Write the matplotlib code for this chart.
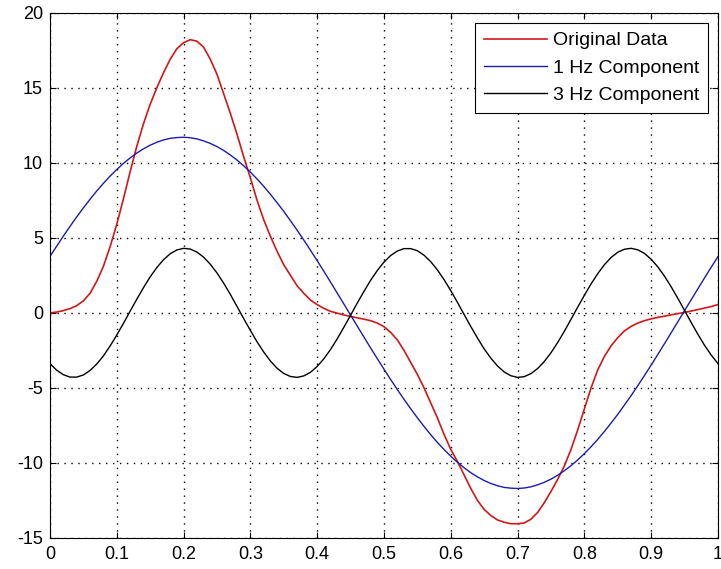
# Original signal with its 1 Hz and 3 Hz components
import numpy as np
import matplotlib.pyplot as plt

plt.rcParams['font.family'] = ['Liberation Sans', 'DejaVu Sans']
plt.rcParams['axes.unicode_minus'] = False  # plain hyphen like the reference

# sample times (s), one every 0.01 s
t = np.linspace(0, 1, 101)

# values
original = [0.0, 0.05, 0.15, 0.28, 0.48, 0.8, 1.3, 2.1, 3.1, 4.4,
            5.9, 7.6, 9.4, 11.1, 12.6, 13.9, 15.0, 16.0, 16.9, 17.6,
            18.0, 18.2, 18.1, 17.7, 16.9, 15.9, 14.6, 13.3, 11.9, 10.4,
            9.0, 7.5, 6.2, 5.1, 4.1, 3.2, 2.5, 1.8, 1.3, 0.85,
            0.55, 0.3, 0.1, -0.02, -0.14, -0.24, -0.33, -0.42, -0.52, -0.68,
            -0.92, -1.3, -1.8, -2.5, -3.3, -4.1, -5.0, -6.0, -7.0, -8.1,
            -9.1, -9.9, -10.8, -11.7, -12.5, -13.1, -13.5, -13.8, -13.95, -14.05,
            -14.05, -14.0, -13.75, -13.3, -12.65, -11.9, -11.1, -10.2, -9.1, -7.8,
            -6.4, -5.0, -3.8, -2.9, -2.2, -1.65, -1.2, -0.9, -0.68, -0.52,
            -0.4, -0.3, -0.22, -0.13, -0.05, 0.03, 0.12, 0.22, 0.32, 0.42,
            0.55]
comp_1hz = [3.76, 4.44, 5.11, 5.76, 6.39, 6.99, 7.57, 8.12, 8.63, 9.11,
            9.55, 9.96, 10.32, 10.65, 10.93, 11.17, 11.37, 11.52, 11.63, 11.68,
            11.70, 11.67, 11.59, 11.46, 11.29, 11.08, 10.82, 10.52, 10.18, 9.80,
            9.38, 8.92, 8.43, 7.90, 7.34, 6.76, 6.14, 5.51, 4.85, 4.17,
            3.48, 2.77, 2.05, 1.32, 0.59, -0.15, -0.88, -1.61, -2.34, -3.05,
            -3.75, -4.44, -5.11, -5.76, -6.39, -6.99, -7.57, -8.12, -8.63, -9.11,
            -9.55, -9.96, -10.32, -10.65, -10.93, -11.17, -11.37, -11.52, -11.63, -11.68,
            -11.70, -11.67, -11.59, -11.46, -11.29, -11.08, -10.82, -10.52, -10.18, -9.80,
            -9.38, -8.92, -8.43, -7.90, -7.34, -6.76, -6.14, -5.51, -4.85, -4.17,
            -3.48, -2.77, -2.05, -1.32, -0.59, 0.15, 0.88, 1.61, 2.34, 3.05,
            3.75]
comp_3hz = [-3.38, -3.82, -4.12, -4.28, -4.28, -4.14, -3.84, -3.41, -2.87, -2.21,
            -1.48, -0.70, 0.11, 0.91, 1.68, 2.40, 3.02, 3.54, 3.94, 4.19,
            4.30, 4.25, 4.05, 3.71, 3.24, 2.66, 1.98, 1.23, 0.43, -0.38,
            -1.17, -1.93, -2.61, -3.21, -3.69, -4.04, -4.24, -4.30, -4.20, -3.96,
            -3.57, -3.06, -2.44, -1.73, -0.96, -0.16, 0.65, 1.43, 2.17, 2.82,
            3.38, 3.82, 4.12, 4.28, 4.28, 4.14, 3.84, 3.41, 2.86, 2.21,
            1.48, 0.70, -0.11, -0.91, -1.68, -2.40, -3.02, -3.54, -3.94, -4.19,
            -4.30, -4.25, -4.05, -3.71, -3.24, -2.66, -1.98, -1.23, -0.43, 0.38,
            1.17, 1.93, 2.61, 3.21, 3.69, 4.04, 4.24, 4.30, 4.20, 3.96,
            3.57, 3.06, 2.44, 1.73, 0.96, 0.16, -0.65, -1.43, -2.17, -2.82,
            -3.38]

xticks = [0, 0.1, 0.2, 0.3, 0.4, 0.5, 0.6, 0.7, 0.8, 0.9, 1]
xlabels = ['0', '0.1', '0.2', '0.3', '0.4', '0.5', '0.6', '0.7', '0.8', '0.9', '1']
yticks = [-15, -10, -5, 0, 5, 10, 15, 20]

fig = plt.figure(figsize=(7.21, 5.69), dpi=100)
ax = fig.add_axes([0.0693, 0.0545, 0.9265, 0.9232])

ax.plot(t, original, color='#d01818', lw=1.2, label='Original Data')
ax.plot(t, comp_1hz, color='#1c1ca8', lw=1.0, label='1 Hz Component')
ax.plot(t, comp_3hz, color='black', lw=1.0, label='3 Hz Component')

ax.set_xlim(0, 1)
ax.set_ylim(-15, 20)
ax.set_xticks(xticks)
ax.set_xticklabels(xlabels)
ax.set_yticks(yticks)
ax.grid(True, color='black', linestyle=(0, (1, 4)), linewidth=1.0)
ax.tick_params(direction='in', top=True, right=True, length=4, width=0.8,
               labelsize=13, pad=5)
ax.tick_params(axis='x', pad=6)
for s in ax.spines.values():
    s.set_linewidth(0.8)

leg = ax.legend(loc='upper right', fontsize=14, fancybox=False, framealpha=1,
                edgecolor='black', handlelength=3.25, handletextpad=0.26,
                labelspacing=0.5, borderpad=0.46, borderaxespad=0.52)
leg.get_frame().set_linewidth(0.8)

fig.savefig('out.png', dpi=100)
